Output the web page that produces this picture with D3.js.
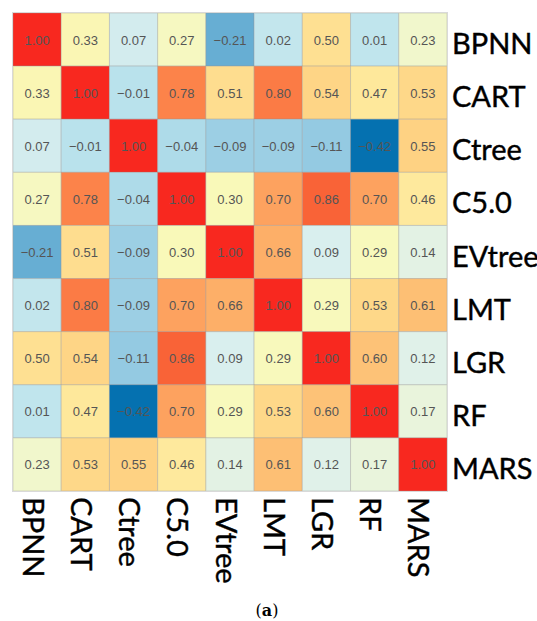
<!DOCTYPE html>
<html>
<head>
<meta charset="utf-8">
<script src="https://cdn.jsdelivr.net/npm/d3@7"></script>
<style>
  html, body { margin: 0; padding: 0; background: #fff; }
  svg { display: block; }
</style>
</head>
<body>
<svg id="chart" width="537" height="621"></svg>
<script>
// Model names (rows and columns share the same order)
const models = ["BPNN", "CART", "Ctree", "C5.0", "EVtree", "LMT", "LGR", "RF", "MARS"];

// Pairwise correlation rows
const rowBPNN   = [1.00, 0.33, 0.07, 0.27, -0.21, 0.02, 0.50, 0.01, 0.23];
const rowCART   = [0.33, 1.00, -0.01, 0.78, 0.51, 0.80, 0.54, 0.47, 0.53];
const rowCtree  = [0.07, -0.01, 1.00, -0.04, -0.09, -0.09, -0.11, -0.42, 0.55];
const rowC50    = [0.27, 0.78, -0.04, 1.00, 0.30, 0.70, 0.86, 0.70, 0.46];
const rowEVtree = [-0.21, 0.51, -0.09, 0.30, 1.00, 0.66, 0.09, 0.29, 0.14];
const rowLMT    = [0.02, 0.80, -0.09, 0.70, 0.66, 1.00, 0.29, 0.53, 0.61];
const rowLGR    = [0.50, 0.54, -0.11, 0.86, 0.09, 0.29, 1.00, 0.60, 0.12];
const rowRF     = [0.01, 0.47, -0.42, 0.70, 0.29, 0.53, 0.60, 1.00, 0.17];
const rowMARS   = [0.23, 0.53, 0.55, 0.46, 0.14, 0.61, 0.12, 0.17, 1.00];

const panelLabel = "(a)";

const matrix = [rowBPNN, rowCART, rowCtree, rowC50, rowEVtree, rowLMT, rowLGR, rowRF, rowMARS];

const cells = [];
matrix.forEach((row, i) => row.forEach((v, j) => cells.push({ r: models[i], c: models[j], v })));

const svg = d3.select("#chart");

const x = d3.scaleBand().domain(models).range([13, 447]).paddingInner(0).paddingOuter(0);
const y = d3.scaleBand().domain(models).range([13, 491]).paddingInner(0).paddingOuter(0);

// Diverging blue -> pale yellow -> red ramp
const color = d3.scaleLinear()
  .domain([-0.42, -0.21, -0.10, 0.00, 0.10, 0.20, 0.30, 0.47, 0.55, 0.63, 0.72, 0.80, 0.87, 1.00])
  .range(["#0571b0", "#67aed3", "#98cde3", "#bde4ed", "#dcf0ee", "#eef6d4", "#f9f9b9",
          "#fee89b", "#fed283", "#fdb86f", "#fd9c5a", "#fb7b45", "#f95f35", "#f8281f"])
  .interpolate(d3.interpolateRgb)
  .clamp(true);

const g = svg.append("g");

g.selectAll("rect.cell")
  .data(cells)
  .join("rect")
  .attr("class", "cell")
  .attr("x", d => x(d.c))
  .attr("y", d => y(d.r))
  .attr("width", x.bandwidth())
  .attr("height", y.bandwidth())
  .attr("fill", d => color(d.v))
  .attr("stroke", "rgba(150,150,150,0.35)")
  .attr("stroke-width", 1);

// Outer frame
g.append("rect")
  .attr("x", x.range()[0] - 0.5)
  .attr("y", y.range()[0] - 0.5)
  .attr("width", x.range()[1] - x.range()[0] + 1)
  .attr("height", y.range()[1] - y.range()[0] + 1)
  .attr("fill", "none")
  .attr("stroke", "#d9d9d9")
  .attr("stroke-width", 1);

g.selectAll("text.val")
  .data(cells)
  .join("text")
  .attr("class", "val")
  .attr("x", d => x(d.c) + x.bandwidth() / 2)
  .attr("y", d => y(d.r) + y.bandwidth() / 2 + 0.5)
  .attr("text-anchor", "middle")
  .attr("dominant-baseline", "central")
  .attr("font-family", "'Liberation Sans', Arial, sans-serif")
  .attr("font-size", 13)
  .attr("fill", "#555")
  .text(d => d3.format(".2f")(d.v).replace("-", "\u2212"));

// Row labels on the right
const labelFont = "Lato, 'Open Sans', sans-serif";
svg.append("g")
  .selectAll("text")
  .data(models)
  .join("text")
  .attr("x", 452)
  .attr("y", d => y(d) + y.bandwidth() / 2 + 3)
  .attr("dominant-baseline", "central")
  .attr("font-family", labelFont)
  .attr("font-size", 29)
  .attr("fill", "#000")
  .attr("stroke", "#000")
  .attr("stroke-width", 0.4)
  .text(d => d);

// Column labels below, rotated to read downward
svg.append("g")
  .selectAll("text")
  .data(models)
  .join("text")
  .attr("transform", d => `translate(${x(d) + x.bandwidth() / 2 - 3},497) rotate(90)`)
  .attr("text-anchor", "start")
  .attr("dominant-baseline", "central")
  .attr("font-family", labelFont)
  .attr("font-size", 29)
  .attr("fill", "#000")
  .attr("stroke", "#000")
  .attr("stroke-width", 0.4)
  .text(d => d);

// Panel caption
const cap = svg.append("text")
  .attr("x", 267)
  .attr("y", 610)
  .attr("text-anchor", "middle")
  .attr("dominant-baseline", "central")
  .attr("font-family", "'DejaVu Serif', 'Liberation Serif', serif")
  .attr("font-size", 16)
  .attr("fill", "#000");
cap.append("tspan").text(panelLabel.slice(0, 1));
cap.append("tspan").attr("font-weight", "bold").text(panelLabel.slice(1, -1));
cap.append("tspan").text(panelLabel.slice(-1));
</script>
</body>
</html>
